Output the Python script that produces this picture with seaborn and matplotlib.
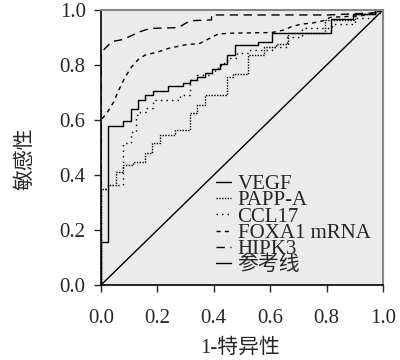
import numpy as np
import pandas as pd
import matplotlib
matplotlib.use("Agg")
import matplotlib.pyplot as plt
import seaborn as sns

# ROC data (1-specificity, sensitivity)
vegf_fpr = [0, 0, 0.026, 0.079, 0.105, 0.132, 0.156, 0.186, 0.239, 0.292, 0.316, 0.339,
            0.369, 0.392, 0.422, 0.446, 0.475, 0.555, 0.605, 0.815, 0.895, 0.97, 1.0]
vegf_tpr = [0, 0.156, 0.578, 0.596, 0.64, 0.673, 0.691, 0.705, 0.722, 0.733, 0.745, 0.757,
            0.77, 0.784, 0.805, 0.836, 0.872, 0.885, 0.916, 0.968, 0.985, 1.0, 1.0]

papp_fpr = [0, 0, 0.025, 0.053, 0.077, 0.115, 0.156, 0.18, 0.209, 0.262, 0.316, 0.339,
            0.369, 0.446, 0.469, 0.522, 0.578, 0.62, 0.664, 0.794, 0.9, 0.97, 1.0]
papp_tpr = [0, 0.35, 0.364, 0.412, 0.436, 0.448, 0.479, 0.515, 0.545, 0.564, 0.624, 0.655,
            0.691, 0.758, 0.767, 0.836, 0.866, 0.875, 0.916, 0.964, 0.985, 1.0, 1.0]

ccl_fpr = [0, 0, 0.025, 0.077, 0.105, 0.124, 0.14, 0.16, 0.186, 0.28, 0.316, 0.339, 0.392,
           0.404, 0.425, 0.446, 0.481, 0.528, 0.605, 0.658, 0.712, 0.82, 0.9, 0.97, 1.0]
ccl_tpr = [0, 0.35, 0.364, 0.515, 0.558, 0.618, 0.628, 0.645, 0.673, 0.691, 0.745, 0.764, 0.772,
           0.788, 0.806, 0.824, 0.842, 0.855, 0.867, 0.903, 0.933, 0.948, 0.97, 0.99, 1.0]

foxa_fpr = [0, 0, 0.02, 0.044, 0.063, 0.085, 0.109, 0.132, 0.156, 0.203, 0.245, 0.298, 0.351,
            0.416, 0.469, 0.605, 0.647, 0.677, 0.712, 0.747, 0.788, 0.812, 0.93, 0.97, 1.0]
foxa_tpr = [0, 0.6, 0.624, 0.664, 0.709, 0.755, 0.794, 0.82, 0.836, 0.848, 0.862, 0.873, 0.879,
            0.913, 0.916, 0.918, 0.927, 0.94, 0.949, 0.952, 0.961, 0.973, 0.98, 0.99, 1.0]

hipk_fpr = [0, 0, 0.038, 0.079, 0.138, 0.174, 0.274, 0.316, 0.392, 0.392, 0.806, 0.977, 1.0]
hipk_tpr = [0, 0.845, 0.885, 0.893, 0.921, 0.933, 0.936, 0.961, 0.964, 0.982, 0.982, 0.99, 1.0]

ref_line = [0, 1]

ticks = [0.0, 0.2, 0.4, 0.6, 0.8, 1.0]

sns.set_style("ticks")
plt.rcParams["font.family"] = ["Liberation Serif", "Noto Sans CJK SC"]
plt.rcParams["font.size"] = 15

fig = plt.figure(figsize=(4, 3.6), dpi=100)
ax = fig.add_axes([0.2525, 0.2083, 0.705, 0.7639])
ax.set_facecolor("#ebebeb")

lw = 1.0
sns.lineplot(x=vegf_fpr, y=vegf_tpr, ax=ax, sort=False, estimator=None, color="black",
             lw=lw, drawstyle="steps-post", label="VEGF")
sns.lineplot(x=papp_fpr, y=papp_tpr, ax=ax, sort=False, estimator=None, color="black",
             lw=lw, drawstyle="steps-post", linestyle=(0, (1, 1)), label="PAPP-A")
sns.lineplot(x=ccl_fpr, y=ccl_tpr, ax=ax, sort=False, estimator=None, color="black",
             lw=lw, drawstyle="steps-post", linestyle=(0, (1, 3)), label="CCL17")
sns.lineplot(x=foxa_fpr, y=foxa_tpr, ax=ax, sort=False, estimator=None, color="black",
             lw=lw, linestyle=(0, (3, 3)), label="FOXA1 mRNA")
sns.lineplot(x=hipk_fpr, y=hipk_tpr, ax=ax, sort=False, estimator=None, color="black",
             lw=lw, linestyle=(0, (6, 4)), label="HIPK3")
sns.lineplot(x=ref_line, y=ref_line, ax=ax, sort=False, estimator=None, color="black",
             lw=lw, label="参考线")

ax.set_xlim(0, 1)
ax.set_ylim(0, 1)
ax.set_xticks(ticks)
ax.set_yticks(ticks)
ax.set_xticklabels([f"{t:.1f}" for t in ticks])
ax.set_yticklabels([f"{t:.1f}" for t in ticks])
ax.tick_params(axis="x", length=5, width=1, pad=12, labelsize=15)
ax.tick_params(axis="y", length=5, width=1, pad=6, labelsize=15)

for side in ["left", "bottom"]:
    ax.spines[side].set_color("black")
    ax.spines[side].set_linewidth(1.2)
for side in ["top", "right"]:
    ax.spines[side].set_visible(True)
    ax.spines[side].set_color("#888888")
    ax.spines[side].set_linewidth(1.5)

ax.set_xlabel("1-特异性", fontsize=15)
ax.set_ylabel("敏感性", fontsize=15)
ax.xaxis.set_label_coords(0.493, -0.195)
ax.yaxis.set_label_coords(-0.234, 0.46)

leg = ax.legend(loc="lower right", frameon=False, fontsize=15, handlelength=0.75,
                handletextpad=0.3, labelspacing=-0.16, borderaxespad=0.0,
                bbox_to_anchor=(0.985, 0.005))

fig.savefig("out.png", dpi=100)
